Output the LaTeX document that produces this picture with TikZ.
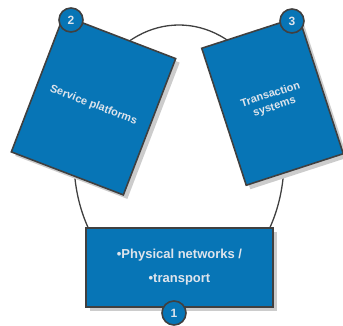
\documentclass[tikz,border=0pt]{standalone}
\usepackage{fontspec}
\setmainfont{Liberation Sans}
\definecolor{cardblue}{RGB}{7,117,182}
\definecolor{rim}{RGB}{64,64,64}
\definecolor{ink}{RGB}{222,228,236}
\tikzset{
  card/.style={draw=rim, line width=1.6pt, fill=cardblue, text=ink,
    font=\bfseries\fontsize{11}{13}\selectfont, align=center, inner sep=0pt},
  cardshadow/.style={fill=black!20, inner sep=0pt},
  badge/.style={circle, draw=rim, line width=1.6pt, fill=cardblue, text=ink,
    minimum size=24pt, inner sep=0pt, font=\bfseries\fontsize{12}{14}\selectfont},
  ring/.style={draw=rim, line width=1.3pt}
}
\begin{document}
\begin{tikzpicture}[x=1pt, y=1pt]
\useasboundingbox (0,0) rectangle (343,325);
\draw[ring] (179,165) ellipse [x radius=105, y radius=135];
% shadows
\node[cardshadow, minimum width=120pt, minimum height=146pt, rotate=-21] (servs) at (97.5,215.75) {};
\node[cardshadow, minimum width=102pt, minimum height=144pt, rotate=18] (transs) at (276.5,220) {};
\node[cardshadow, minimum width=187pt, minimum height=79pt] (physs) at (183.5,53.5) {};
% cards
\node[card, minimum width=120pt, minimum height=146pt, rotate=-21] (serv) at (93.5,219.75) {Service platforms};
\node[card, minimum width=102pt, minimum height=144pt, rotate=18] (trans) at (272.5,224) {Transaction\\systems};
\node[card, minimum width=187pt, minimum height=79pt, font=\bfseries\fontsize{13}{15}\selectfont] (phys) at (179.5,57.5)
  {\textbullet Physical networks /\\[9pt]\textbullet transport};
% badges
\node[badge] (b1) at (174,12) {1};
\node[badge] (b2) at (71,305) {2};
\node[badge] (b3) at (292,304) {3};
\end{tikzpicture}
\end{document}
